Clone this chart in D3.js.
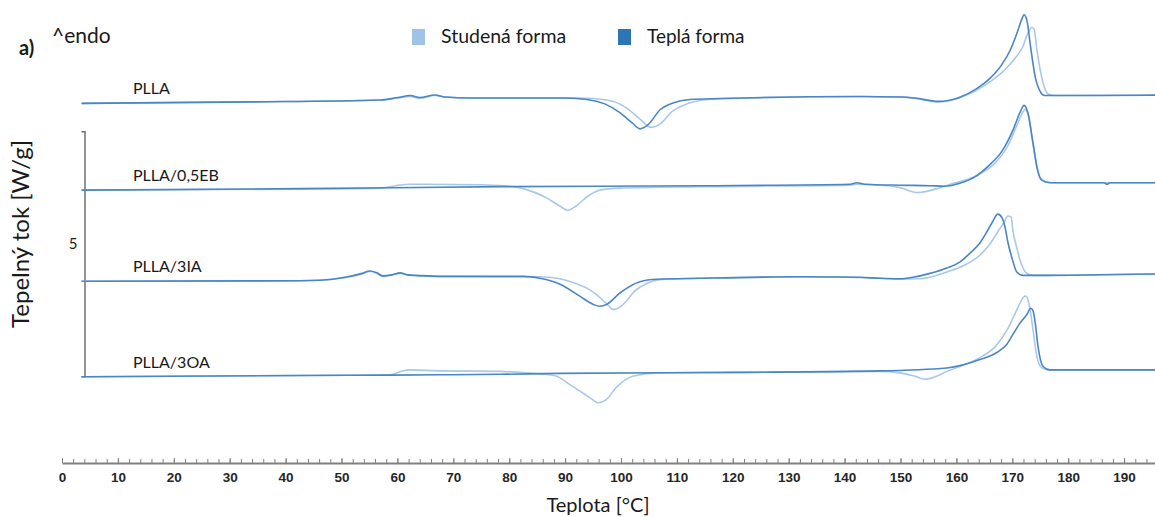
<!DOCTYPE html>
<html>
<head>
<meta charset="utf-8">
<script src="https://cdn.jsdelivr.net/npm/d3@7"></script>
<style>
  html, body { margin: 0; padding: 0; background: #ffffff; }
  svg { display: block; }
</style>
</head>
<body>
<svg id="chart" width="1155" height="517"></svg>
<script>
// DSC heating curves, heat flow in W/g relative to each sample's own baseline.
const samples = ["PLLA", "PLLA/0,5EB", "PLLA/3IA", "PLLA/3OA"];
// vertical stacking shift of each sample (W/g)
const offsets = [7.34, 5.57, 3.71, 1.76];
const seriesNames = ["Studená forma", "Teplá forma"];
const xTicks = [0, 10, 20, 30, 40, 50, 60, 70, 80, 90, 100, 110, 120, 130, 140, 150, 160, 170, 180, 190];
const scaleBarStart = 1.76;   // W/g
const scaleBarSize = 5;       // W/g

// [teplota °C, tepelný tok W/g]
const studenaPLLA = [[3.5,0],[33.6,0.03],[56.9,0.07],[60.1,0.11],[62.3,0.14],[64.0,0.10],[66.7,0.16],[68.5,0.13],[73.0,0.11],[92.7,0.11],[97.5,0.07],[100.7,-0.07],[103.4,-0.32],[105.4,-0.49],[107.0,-0.42],[109.1,-0.17],[111.8,-0.01],[114.1,0.06],[119.5,0.10],[142.8,0.14],[149.9,0.13],[152.6,0.10],[156.7,0.03],[160.5,0.11],[163.5,0.26],[166.0,0.44],[168.5,0.67],[170.5,0.92],[171.9,1.16],[172.8,1.44],[173.5,1.55],[173.9,1.52],[174.4,1.09],[175.5,0.42],[176.4,0.19],[177.6,0.16],[196,0.17]];
const teplaPLLA = [[3.5,0],[33.6,0.03],[56.9,0.07],[60.1,0.12],[62.3,0.16],[64.0,0.12],[66.7,0.17],[68.5,0.13],[73.0,0.11],[89.1,0.11],[93.9,0.08],[97.1,-0.01],[99.8,-0.19],[102.0,-0.40],[103.4,-0.52],[104.8,-0.44],[107.0,-0.13],[109.3,0.01],[112.3,0.08],[117.7,0.10],[142.8,0.14],[149.9,0.13],[152.6,0.11],[156.7,0.04],[160.5,0.12],[163.5,0.29],[166.0,0.51],[168.0,0.77],[169.6,1.08],[170.8,1.42],[171.7,1.72],[172.1,1.81],[172.6,1.70],[173.3,1.13],[174.1,0.54],[175.0,0.24],[175.8,0.16],[185.7,0.16],[196,0.17]];

const studenaEB = [[3.5,0],[42.6,0.02],[56.9,0.04],[59.6,0.09],[62.3,0.12],[74.8,0.11],[79.2,0.09],[82.8,0.02],[86.4,-0.14],[89.1,-0.33],[90.5,-0.41],[91.9,-0.33],[94.1,-0.12],[96.2,0.0],[99.8,0.04],[114.1,0.07],[141.0,0.10],[142.2,0.12],[146.3,0.10],[149.9,0.05],[153.1,-0.05],[156.2,0.02],[158.9,0.12],[161.5,0.20],[164.2,0.33],[166.9,0.55],[169.1,0.88],[171.0,1.37],[171.7,1.55],[172.3,1.65],[172.8,1.57],[173.7,0.96],[174.4,0.49],[175.1,0.24],[176.0,0.17],[177.1,0.15],[196,0.15]];
const teplaEB = [[3.5,0],[42.6,0.03],[78.4,0.07],[114.1,0.09],[141.0,0.12],[142.2,0.15],[143.6,0.12],[149.9,0.10],[155.3,0.09],[158.0,0.08],[160.6,0.14],[163.3,0.27],[165.5,0.47],[168.3,0.82],[170.1,1.22],[171.4,1.59],[172.1,1.73],[172.8,1.57],[173.7,0.96],[174.4,0.47],[175.0,0.24],[175.8,0.17],[177.1,0.15],[186.4,0.15],[186.9,0.12],[187.5,0.15],[196,0.15]];

const studena3IA = [[3.5,0],[42.6,0.01],[46.2,0.02],[50.6,0.07],[53.7,0.15],[55.1,0.20],[56.2,0.17],[57.4,0.10],[59.0,0.13],[60.5,0.16],[61.9,0.13],[63.5,0.11],[67.6,0.10],[85.5,0.09],[88.6,0.06],[91.8,-0.04],[94.5,-0.18],[96.2,-0.33],[97.7,-0.49],[98.6,-0.58],[99.8,-0.53],[101.1,-0.39],[102.1,-0.24],[103.4,-0.12],[104.7,-0.04],[107.0,0.03],[114.1,0.06],[132.0,0.09],[146.3,0.06],[149.9,0.04],[153.5,0.05],[158.3,0.19],[161.5,0.33],[164.2,0.53],[166.0,0.76],[167.4,1.01],[168.5,1.20],[169.2,1.33],[169.8,1.31],[170.1,1.04],[170.7,0.73],[171.4,0.43],[172.6,0.16],[173.7,0.12],[196,0.15]];
const tepla3IA = [[3.5,0],[42.6,0.01],[46.2,0.02],[50.6,0.08],[53.7,0.16],[55.1,0.21],[56.2,0.18],[57.4,0.11],[59.0,0.13],[60.5,0.17],[61.9,0.13],[63.5,0.12],[67.6,0.10],[82.5,0.10],[85.5,0.06],[89.1,-0.06],[92.7,-0.31],[95.0,-0.47],[96.2,-0.51],[97.5,-0.47],[99.8,-0.24],[103.4,-0.01],[106.4,0.04],[114.1,0.06],[132.0,0.09],[142.8,0.08],[146.3,0.06],[149.9,0.05],[152.2,0.08],[155.3,0.16],[158.3,0.27],[160.6,0.39],[162.4,0.57],[164.2,0.78],[165.5,1.02],[166.5,1.22],[167.4,1.37],[168.2,1.29],[168.7,1.10],[169.2,0.80],[169.9,0.49],[170.8,0.19],[171.9,0.12],[174.1,0.12],[196,0.15]];

const studena3OA = [[3.5,0],[51.5,0.03],[58.7,0.04],[61.0,0.12],[62.3,0.14],[67.6,0.12],[78.4,0.11],[81.9,0.09],[85.5,0.06],[88.2,0.02],[91.4,-0.20],[94.5,-0.43],[95.9,-0.53],[97.3,-0.47],[99.3,-0.20],[102.1,0.01],[106.4,0.08],[121.3,0.09],[146.3,0.11],[149.9,0.08],[152.3,0.02],[154.4,-0.05],[156.2,0.00],[158.3,0.11],[164.2,0.39],[166.9,0.61],[169.1,0.96],[170.5,1.29],[171.4,1.51],[172.3,1.65],[172.6,1.63],[173.1,1.43],[173.7,0.96],[174.4,0.41],[175.3,0.18],[176.4,0.14],[196,0.14]];
const tepla3OA = [[3.5,0],[51.5,0.03],[67.6,0.04],[78.4,0.05],[89.1,0.07],[121.3,0.09],[146.3,0.12],[158.3,0.18],[164.2,0.35],[167.3,0.50],[169.0,0.66],[170.3,0.90],[171.4,1.10],[172.6,1.27],[173.3,1.40],[173.7,1.35],[174.1,1.10],[174.6,0.62],[175.5,0.21],[176.7,0.14],[196,0.14]];

const studenaCurves = [studenaPLLA, studenaEB, studena3IA, studena3OA];
const teplaCurves = [teplaPLLA, teplaEB, tepla3IA, tepla3OA];

const colors = { studena: "#a9c9eb", tepla: "#4a86c6" };
const legendColors = { studena: "#9dc3e6", tepla: "#2e75b6" };
const textFont = "Lato, 'Open Sans', sans-serif";

const svg = d3.select("#chart");

const x = d3.scaleLinear().domain([0, 196]).range([62, 62 + 196 * 5.59]);
const y = d3.scaleLinear().domain([0, 9.45]).range([463, 0]);
const axisY = 463;

// x axis: minor ticks every 2 °C, labelled ticks every 10 °C
const minor = d3.range(0, 197, 2);
svg.append("g")
  .attr("transform", `translate(0,${axisY})`)
  .call(d3.axisBottom(x).tickValues(minor).tickFormat("").tickSizeInner(-4).tickSizeOuter(0))
  .call(g => g.select(".domain").remove())
  .call(g => g.selectAll(".tick line").attr("stroke", "#808080").attr("stroke-width", 1));

const xAxis = svg.append("g")
  .attr("transform", `translate(0,${axisY})`)
  .call(d3.axisBottom(x).tickValues(xTicks).tickFormat(d3.format("d")).tickSizeInner(-5).tickSizeOuter(0).tickPadding(9));
xAxis.select(".domain").attr("stroke", "#808080").attr("stroke-width", 2);
xAxis.selectAll(".tick line").attr("stroke", "#808080").attr("stroke-width", 1);
xAxis.selectAll(".tick text")
  .attr("fill", "#262626")
  .style("font-family", "'Liberation Sans', Arial, sans-serif")
  .style("font-weight", "bold")
  .style("font-size", "13.5px");

svg.append("text")
  .attr("x", 598).attr("y", 512)
  .attr("text-anchor", "middle")
  .style("font-family", textFont).style("font-size", "20px").attr("fill", "#1a1a1a")
  .text("Teplota [°C]");

svg.append("text")
  .attr("transform", "translate(29,234) rotate(-90)")
  .attr("text-anchor", "middle")
  .style("font-family", textFont).style("font-size", "24px").attr("fill", "#1a1a1a")
  .text("Tepelný tok [W/g]");

// 5 W/g scale bar
const sbTop = y(scaleBarStart + scaleBarSize), sbBottom = y(scaleBarStart);
svg.append("path")
  .attr("d", `M81.5,${sbTop}H85V${sbBottom}H81.5`)
  .attr("fill", "none").attr("stroke", "#6f6f6f").attr("stroke-width", 1.5);
svg.append("text")
  .attr("x", 73).attr("y", 249)
  .attr("text-anchor", "middle")
  .style("font-family", textFont).style("font-size", "15px").attr("fill", "#1a1a1a")
  .text(scaleBarSize);

// curves
const line = d3.line()
  .x(d => x(d[0]))
  .y(d => y(d[1]))
  .curve(d3.curveMonotoneX);

samples.forEach((name, i) => {
  const shift = offsets[i];
  const g = svg.append("g");
  g.append("path")
    .datum(studenaCurves[i].map(d => [d[0], d[1] + shift]))
    .attr("d", line).attr("fill", "none")
    .attr("stroke", colors.studena).attr("stroke-width", 1.6);
  g.append("path")
    .datum(teplaCurves[i].map(d => [d[0], d[1] + shift]))
    .attr("d", line).attr("fill", "none")
    .attr("stroke", colors.tepla).attr("stroke-width", 1.6);
  g.append("text")
    .attr("x", 133).attr("y", y(shift) - 9)
    .style("font-family", textFont).style("font-size", "16px").attr("fill", "#1a1a1a")
    .text(name);
});

// legend
const legend = [
  { name: seriesNames[0], color: legendColors.studena, x: 412, size: "19.5px" },
  { name: seriesNames[1], color: legendColors.tepla, x: 618, size: "19px" }
];
legend.forEach(l => {
  svg.append("rect").attr("x", l.x).attr("y", 29).attr("width", 13).attr("height", 16).attr("fill", l.color);
  svg.append("text").attr("x", l.x + 29).attr("y", 43)
    .style("font-family", textFont).style("font-size", l.size).attr("fill", "#1a1a1a")
    .text(l.name);
});

svg.append("text").attr("x", 52).attr("y", 43)
  .style("font-family", textFont).style("font-size", "21px").attr("fill", "#1a1a1a")
  .text("^endo");
svg.append("text").attr("x", 19).attr("y", 55)
  .style("font-family", textFont).style("font-size", "20px").style("font-weight", "bold").attr("fill", "#1a1a1a")
  .text("a)");
</script>
</body>
</html>
